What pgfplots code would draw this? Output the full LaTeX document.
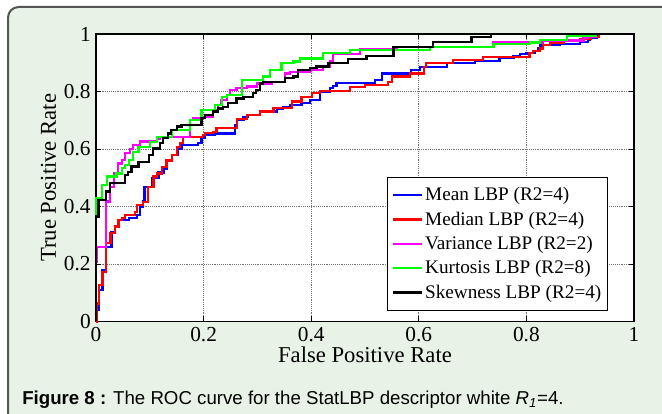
\documentclass[border=0pt]{standalone}
\usepackage{pgfplots}
\pgfplotsset{compat=1.18}
\usepackage{fontspec}
\setmainfont{Liberation Serif}
\newfontfamily\arial{Liberation Sans}
\definecolor{bgfill}{HTML}{E9F2E6}
\definecolor{framec}{HTML}{555555}
\definecolor{mgreen}{RGB}{0,255,0}
\definecolor{mmag}{RGB}{255,0,255}
\definecolor{mblue}{RGB}{0,0,255}
\definecolor{mred}{RGB}{255,0,0}
\begin{document}
\begin{tikzpicture}
\useasboundingbox (0,0) rectangle (496.5pt,310.5pt);
\begin{scope}
\clip (0,0) rectangle (496.5pt,310.5pt);
\draw[framec, line width=1.5pt, fill=bgfill, rounded corners=8pt] (6pt,-30pt) rectangle (530pt,305.25pt);
\end{scope}
\begin{axis}[
  at={(72pt,69.375pt)}, anchor=south west,
  scale only axis, width=403.5pt, height=215.625pt,
  xmin=0, xmax=1, ymin=0, ymax=1,
  xtick={0,0.2,0.4,0.6,0.8,1}, ytick={0,0.2,0.4,0.6,0.8,1},
  axis background/.style={fill=white},
  axis line style={black, line width=1.1pt},
  tick align=inside, major tick length=4pt,
  tick style={black, line width=0.6pt},
  grid=major, major grid style={black!55, densely dotted, line width=0.5pt},
  /pgf/number format/assume math mode=true,
  tick label style={font=\fontsize{16}{19}\selectfont, inner sep=0pt},
  yticklabel style={xshift=-3.8pt},
  xticklabel style={yshift=-4.5pt},
  xlabel={False Positive Rate}, ylabel={True Positive Rate},
  label style={font=\fontsize{17}{20}\selectfont, inner sep=0pt},
  xlabel style={at={(axis description cs:0.5,-0.1426)}, anchor=base},
  ylabel style={at={(axis description cs:-0.0745,0.5)}, anchor=base},
  clip=false,
  every axis plot/.append style={line width=1.7pt, const plot},
  legend style={at={(axis description cs:0.541,0.5026)}, anchor=north west,
    draw=black, line width=0.8pt, fill=white,
    font=\fontsize{14.4}{17}\selectfont, inner xsep=3pt, inner ysep=4pt,
    nodes={inner xsep=1.8pt, inner ysep=3.4pt}},
  legend cell align=left,
  legend image code/.code={\draw[#1, line width=1.9pt] (0pt,0pt) -- (21.5pt,0pt);},
]
\addplot[mblue] coordinates {
(0,0) (0.002,0.04) (0.006,0.11) (0.012,0.18) (0.019,0.26) (0.029,0.31) (0.035,0.33)
(0.042,0.353) (0.062,0.36) (0.076,0.37) (0.082,0.40) (0.088,0.417) (0.090,0.469)
(0.104,0.50) (0.116,0.518) (0.126,0.53) (0.131,0.56) (0.141,0.58) (0.153,0.60)
(0.159,0.614) (0.190,0.62) (0.196,0.637) (0.203,0.649) (0.221,0.654) (0.258,0.683)
(0.262,0.700) (0.274,0.712) (0.283,0.718) (0.305,0.730) (0.336,0.741) (0.348,0.747)
(0.361,0.752) (0.382,0.759) (0.398,0.770) (0.416,0.800) (0.435,0.811) (0.441,0.820)
(0.447,0.830) (0.518,0.840) (0.531,0.863) (0.586,0.875) (0.602,0.886) (0.652,0.898)
(0.705,0.907) (0.750,0.917) (0.776,0.922) (0.788,0.930) (0.800,0.935) (0.816,0.940)
(0.822,0.951) (0.826,0.961) (0.862,0.965) (0.900,0.972) (0.915,0.980) (0.918,0.988)
(0.931,1.0) (1,1)};
\addlegendentry{Mean LBP (R2=4)}
\addplot[mred] coordinates {
(0,0) (0.001,0.063) (0.006,0.127) (0.012,0.173) (0.019,0.272) (0.027,0.307) (0.035,0.33)
(0.042,0.353) (0.048,0.36) (0.054,0.370) (0.073,0.38) (0.076,0.405) (0.088,0.415)
(0.097,0.469) (0.107,0.504) (0.113,0.515) (0.122,0.538) (0.131,0.56) (0.141,0.579)
(0.150,0.608) (0.156,0.62) (0.162,0.643) (0.199,0.649) (0.203,0.655) (0.218,0.660)
(0.224,0.672) (0.262,0.705) (0.280,0.718) (0.305,0.730) (0.330,0.742) (0.364,0.765)
(0.382,0.782) (0.401,0.795) (0.416,0.802) (0.472,0.815) (0.500,0.823) (0.543,0.834)
(0.550,0.852) (0.584,0.863) (0.609,0.886) (0.614,0.900) (0.664,0.910) (0.720,0.921)
(0.806,0.933) (0.812,0.940) (0.825,0.950) (0.831,0.962) (0.844,0.968) (0.870,0.975)
(0.900,0.983) (0.920,0.990) (0.935,1.0) (1,1)};
\addlegendentry{Median LBP (R2=4)}
\addplot[mmag] coordinates {
(0,0) (0,0.208) (0.0025,0.26) (0.0186,0.417) (0.026,0.469) (0.0335,0.515) (0.0415,0.55)
(0.048,0.562) (0.054,0.585) (0.063,0.60) (0.069,0.614) (0.082,0.626) (0.113,0.635)
(0.119,0.643) (0.175,0.701) (0.181,0.706) (0.199,0.712) (0.218,0.735) (0.227,0.753)
(0.233,0.770) (0.243,0.788) (0.249,0.805) (0.261,0.811) (0.280,0.817) (0.299,0.828)
(0.327,0.834) (0.351,0.863) (0.361,0.869) (0.398,0.875) (0.4225,0.886) (0.435,0.904)
(0.441,0.93) (0.491,0.947) (0.559,0.954) (0.738,0.970) (0.831,0.977) (0.906,0.985)
(0.915,0.991) (0.930,1.0) (1,1)};
\addlegendentry{Variance LBP (R2=2)}
\addplot[mgreen] coordinates {
(0,0) (0,0.376) (0,0.428) (0.0105,0.475) (0.020,0.504) (0.038,0.515) (0.048,0.533)
(0.054,0.545) (0.062,0.562) (0.069,0.590) (0.079,0.608) (0.100,0.625) (0.113,0.643)
(0.141,0.666) (0.175,0.701) (0.196,0.736) (0.221,0.753) (0.234,0.782) (0.243,0.788)
(0.271,0.840) (0.311,0.852) (0.323,0.875) (0.345,0.898) (0.367,0.904) (0.379,0.915)
(0.4225,0.933) (0.472,0.944) (0.621,0.956) (0.739,0.965) (0.807,0.970) (0.825,0.979)
(0.875,0.993) (0.93,1.0) (1,1)};
\addlegendentry{Kurtosis LBP (R2=8)}
\addplot[black] coordinates {
(0,0) (0,0.365) (0.0044,0.423) (0.0186,0.452) (0.026,0.481) (0.054,0.510) (0.060,0.521)
(0.066,0.539) (0.079,0.556) (0.099,0.579) (0.106,0.602) (0.119,0.620) (0.125,0.637)
(0.134,0.654) (0.140,0.666) (0.150,0.678) (0.159,0.684) (0.196,0.707) (0.203,0.718)
(0.218,0.730) (0.227,0.741) (0.236,0.747) (0.246,0.759) (0.261,0.776) (0.274,0.782)
(0.292,0.794) (0.298,0.805) (0.305,0.828) (0.311,0.834) (0.351,0.846) (0.367,0.852)
(0.376,0.875) (0.398,0.881) (0.410,0.887) (0.432,0.898) (0.468,0.912) (0.503,0.924)
(0.553,0.956) (0.627,0.973) (0.698,0.990) (0.734,1.0) (1,1)};
\addlegendentry{Skewness LBP (R2=4)}
\end{axis}
\node[anchor=base west, inner sep=0pt, font=\arial\fontsize{14}{16}\selectfont] at (16.5pt,6.75pt)
  {\textbf{Figure 8 :} The ROC curve for the StatLBP descriptor white \textit{R}\textsubscript{\textit{1}}=4.};
\end{tikzpicture}
\end{document}
